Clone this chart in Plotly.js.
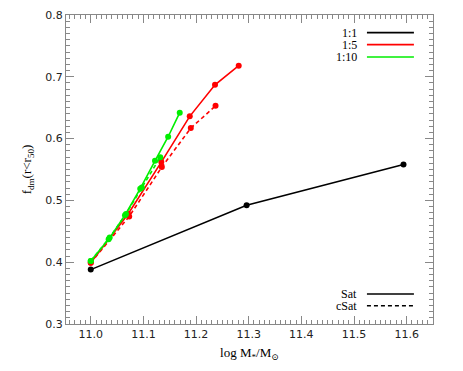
<!DOCTYPE html>
<html>
<head>
<meta charset="utf-8">
<script src="https://cdn.plot.ly/plotly-3.0.1.min.js"></script>
<style>
  html, body { margin: 0; padding: 0; background: #fff; }
  #chart { width: 463px; height: 371px; }
</style>
</head>
<body>
<div id="chart"></div>
<script>
// 1:1 merger ratio
var x_11_sat = [11.0, 11.296, 11.594]
var y_11_sat = [0.388, 0.492, 0.558]

// 1:5 merger ratio
var x_15_sat = [11.0, 11.071, 11.134, 11.188, 11.236, 11.281]
var y_15_sat = [0.399, 0.478, 0.562, 0.636, 0.687, 0.718]
var x_15_csat = [11.0, 11.073, 11.135, 11.190, 11.237]
var y_15_csat = [0.399, 0.474, 0.554, 0.617, 0.653]

// 1:10 merger ratio
var x_110_sat = [11.0, 11.034, 11.065, 11.094, 11.122, 11.147, 11.169]
var y_110_sat = [0.402, 0.437, 0.476, 0.519, 0.564, 0.603, 0.642]
var x_110_csat = [11.0, 11.036, 11.067, 11.097, 11.132]
var y_110_csat = [0.402, 0.440, 0.478, 0.521, 0.570]

var serif = 'Liberation Serif, DejaVu Serif, serif'

function series(x, y, color, dash, msize) {
    return {
        type: 'scatter', mode: 'lines+markers', x: x, y: y,
        line: { color: color, width: 1.6, dash: dash },
        marker: { color: color, size: msize },
        showlegend: false, hoverinfo: 'skip'
    }
}

var data = [
    series(x_11_sat, y_11_sat, '#000000', 'solid', 6),
    series(x_15_csat, y_15_csat, '#ff0000', '4px,3px', 6),
    series(x_15_sat, y_15_sat, '#ff0000', 'solid', 6),
    series(x_110_csat, y_110_csat, '#00ee00', '4px,3px', 6),
    series(x_110_sat, y_110_sat, '#00ee00', 'solid', 6)
]

var axis_common = {
    showgrid: false, zeroline: false,
    showline: true, linecolor: '#888888', linewidth: 1, mirror: 'ticks',
    ticks: 'inside', ticklen: 8, tickcolor: '#888888', tickwidth: 1,
    tickfont: { family: 'DejaVu Sans, sans-serif', size: 11, color: '#222222' }
}

// legend keys (text left, line sample right)
var key_names = ['1:1', '1:5', '1:10', 'Sat', 'cSat']
var key_colors = ['#000000', '#ff0000', '#00ee00', '#000000', '#000000']
var key_dash = ['solid', 'solid', 'solid', 'solid', '4px,3px']
var key_y = [0.943, 0.904, 0.864, 0.097, 0.059]

var annotations = []
var shapes = []
key_names.forEach(function (name, i) {
    annotations.push({
        xref: 'paper', yref: 'paper', x: 0.796, y: key_y[i],
        xanchor: 'right', yanchor: 'middle', showarrow: false,
        text: name, font: { family: serif, size: 12, color: '#000000' },
        borderpad: 0
    })
    shapes.push({
        type: 'line', xref: 'paper', yref: 'paper',
        x0: 0.820, x1: 0.948, y0: key_y[i], y1: key_y[i],
        line: { color: key_colors[i], width: 1.6, dash: key_dash[i] }
    })
})

var layout = {
    width: 463, height: 371,
    margin: { l: 66, r: 30, t: 15, b: 47 },
    paper_bgcolor: '#ffffff', plot_bgcolor: '#ffffff',
    xaxis: Object.assign({}, axis_common, {
        range: [10.953, 11.65], dtick: 0.1, tick0: 11.0, tickformat: '.1f',
        minor: { dtick: 0.01, ticklen: 4, ticks: 'inside', tickcolor: '#888888' },
        title: { text: 'log M<sub>*</sub>/M<sub>⊙</sub>', font: { family: serif, size: 13, color: '#000000' }, standoff: 7 }
    }),
    yaxis: Object.assign({}, axis_common, {
        range: [0.3, 0.8], dtick: 0.1, tickformat: '.1f',
        minor: { dtick: 0.01, ticklen: 4, ticks: 'inside', tickcolor: '#888888' },
        title: { text: 'f<sub>dm</sub>(r&lt;r<sub>50</sub>)', font: { family: serif, size: 13, color: '#000000' }, standoff: 10 }
    }),
    annotations: annotations,
    shapes: shapes
}

Plotly.newPlot('chart', data, layout, { displayModeBar: false, staticPlot: true })
</script>
</body>
</html>
